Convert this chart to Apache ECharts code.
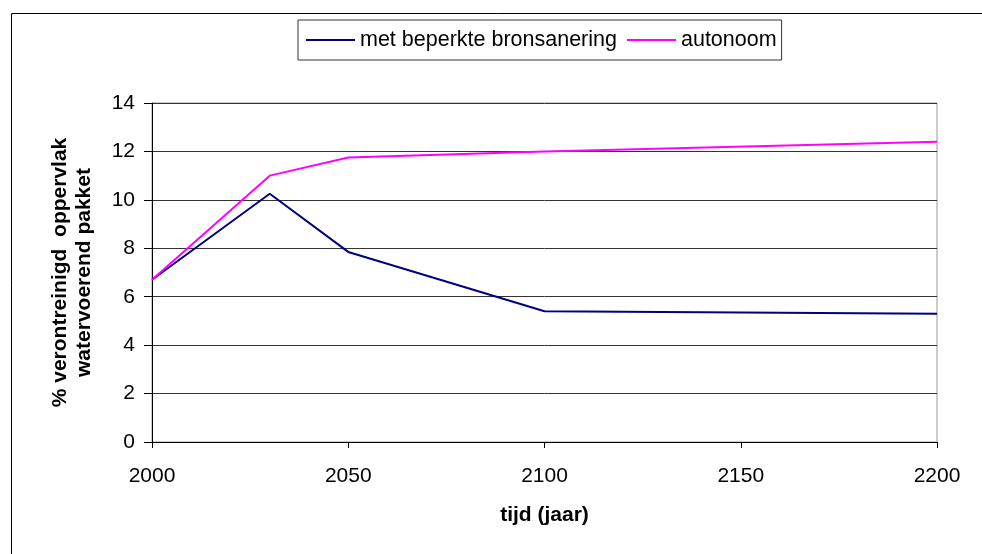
<!DOCTYPE html>
<html>
<head>
<meta charset="utf-8">
<script src="https://cdn.jsdelivr.net/npm/echarts@6/dist/echarts.min.js"></script>
<style>
  html, body { margin: 0; padding: 0; background: #fff; }
  #chart { width: 982px; height: 554px; }
</style>
</head>
<body>
<div id="chart"></div>
<script>
  // jaren en percentages
  const years = [2000, 2030, 2050, 2100, 2200];
  const beperkt = [6.7, 10.25, 7.85, 5.4, 5.3];
  const autonoom = [6.7, 11.0, 11.75, 12.0, 12.4];
  const seriesNames = ["met beperkte bronsanering", "autonoom"];

  const pairs = (xs, ys) => xs.map((x, i) => [x, ys[i]]);
  const font = "Liberation Sans, Arial, sans-serif";

  const chart = echarts.init(document.getElementById("chart"));
  chart.setOption({
    animation: false,
    textStyle: { fontFamily: font },
    graphic: [
      {
        type: "rect",
        left: 9, top: 11,
        shape: { width: 1000, height: 600 },
        style: { fill: "none", stroke: "#000", lineWidth: 1 }
      }
    ],
    legend: {
      top: 20,
      left: 298,
      data: seriesNames,
      icon: "rect",
      itemWidth: 49,
      itemHeight: 2,
      itemGap: 10,
      padding: [9, 5, 9, 8],
      borderColor: "#333",
      borderWidth: 1,
      textStyle: { fontSize: 21.5, color: "#000", fontFamily: font }
    },
    grid: {
      left: 152, right: 45, top: 103, bottom: 112,
      show: true,
      borderColor: "#999",
      borderWidth: 1
    },
    xAxis: {
      type: "value",
      min: 2000, max: 2200, interval: 50,
      name: "tijd (jaar)",
      nameLocation: "middle",
      nameGap: 63,
      nameTextStyle: { fontSize: 21, fontWeight: "bold", color: "#000" },
      axisLine: { lineStyle: { color: "#000", width: 1 } },
      axisTick: { show: true, length: 6, lineStyle: { color: "#000" } },
      axisLabel: { fontSize: 21, color: "#000", margin: 24, formatter: (v) => String(v) },
      splitLine: { show: false }
    },
    yAxis: {
      type: "value",
      min: 0, max: 14, interval: 2,
      name: "% verontreinigd  oppervlak\nwatervoerend pakket",
      nameLocation: "middle",
      nameGap: 56,
      nameRotate: 90,
      nameTextStyle: { fontSize: 21, fontWeight: "bold", color: "#000", lineHeight: 24 },
      axisLine: { show: true, lineStyle: { color: "#000", width: 1 } },
      axisTick: { show: true, length: 8, lineStyle: { color: "#000" } },
      axisLabel: { fontSize: 21, color: "#000", margin: 17 },
      splitLine: { show: true, lineStyle: { color: "#333", width: 1 } }
    },
    series: [
      {
        name: seriesNames[0],
        type: "line",
        data: pairs(years, beperkt),
        symbol: "none",
        color: "#000080",
        lineStyle: { width: 2, color: "#000080" }
      },
      {
        name: seriesNames[1],
        type: "line",
        data: pairs(years, autonoom),
        symbol: "none",
        color: "#ff00ff",
        lineStyle: { width: 2, color: "#ff00ff" }
      }
    ]
  });
</script>
</body>
</html>
